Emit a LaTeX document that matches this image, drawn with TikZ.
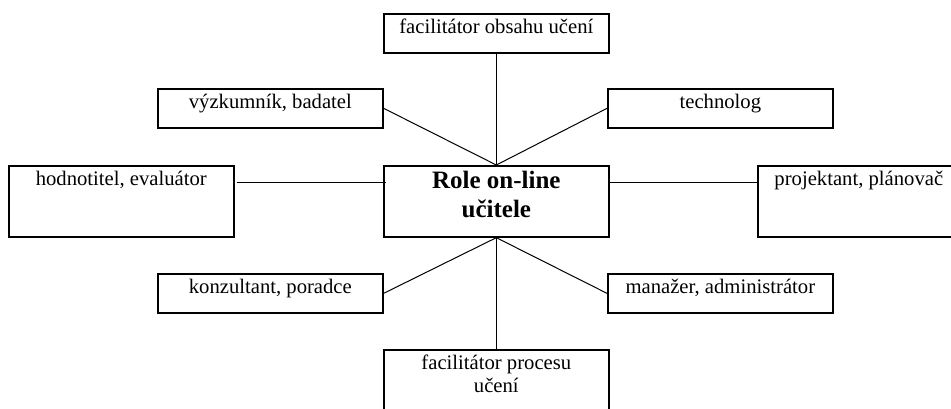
\documentclass[tikz,border=0pt]{standalone}
\usepackage{fontspec}
\setmainfont{Liberation Serif}
\usetikzlibrary{calc}

\begin{document}
\begin{tikzpicture}[x=0.6pt,y=-0.6pt,
  role/.style={draw,line width=1pt,anchor=north west,inner sep=0pt,minimum width=135pt,align=center,
    font=\fontsize{12.4}{13.8}\selectfont,text height=12pt,text depth=11.4pt},
  tall/.style={text depth=30.6pt},
  twoline/.style={text height=25.8pt,text depth=16.8pt},
  main/.style={font=\fontsize{15}{17.4}\selectfont\bfseries,text height=31.2pt,text depth=11.4pt},
  link/.style={line width=0.6pt}
]
\useasboundingbox (0,0) rectangle (951,408);
% roles around the centre
\node[role] (obsah) at (383,13) {facilitátor obsahu učení};
\node[role] (vyzkum) at (157,88) {výzkumník, badatel};
\node[role] (technolog) at (607,88) {technolog};
\node[role,tall] (hodnot) at (8,165) {hodnotitel, evaluátor};
\node[role,main] (ucitel) at (383,165) {Role on-line\\učitele};
\node[role,tall,minimum width=121.2pt] (projekt) at (757,165) {projektant, plánovač};
\node[role] (konzult) at (157,273) {konzultant, poradce};
\node[role] (manazer) at (607,273) {manažer, administrátor};
\node[role,twoline] (proces) at (383,349) {facilitátor procesu\\učení};
% connectors
\draw[link] (obsah.south) -- (ucitel.north);
\draw[link] (vyzkum.east) -- (ucitel.north);
\draw[link] (technolog.west) -- (ucitel.north);
\draw[link] ($(hodnot.north east)+(2,17)$) -- ($(ucitel.north west)+(3,17)$);
\draw[link] ($(ucitel.north east)+(0,17)$) -- ($(projekt.north west)+(0,17)$);
\draw[link] (konzult.east) -- (ucitel.south);
\draw[link] (manazer.west) -- (ucitel.south);
\draw[link] (ucitel.south) -- (proces.north);
\end{tikzpicture}
\end{document}
